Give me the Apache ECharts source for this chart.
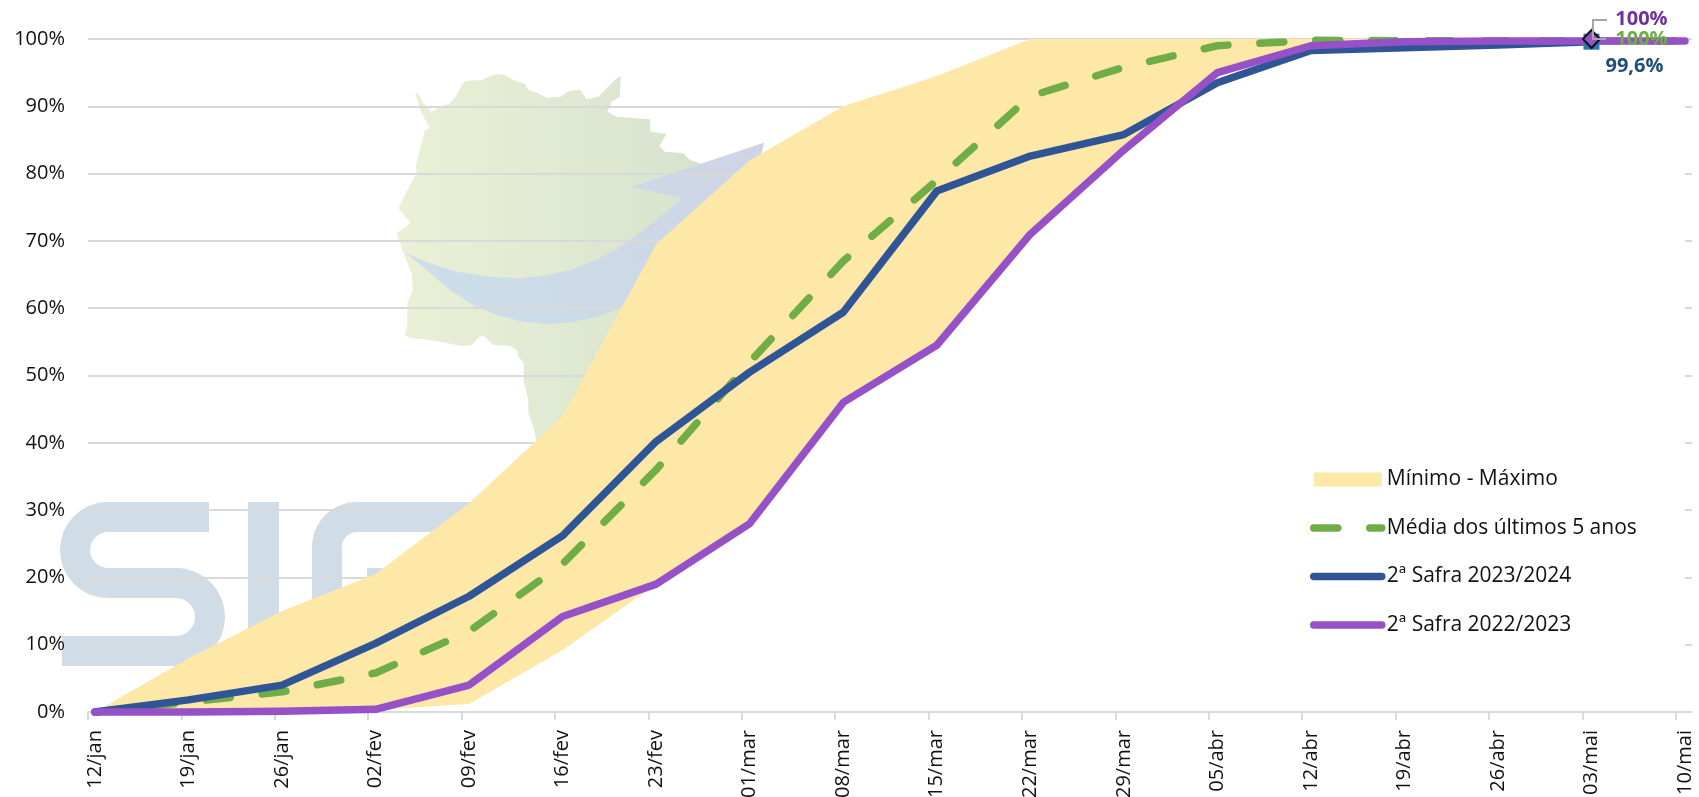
<!DOCTYPE html>
<html>
<head>
<meta charset="utf-8">
<style>html,body{margin:0;padding:0;background:#fff;overflow:hidden}#c{width:1699px;height:797px}</style>
<script src="https://cdn.jsdelivr.net/npm/echarts@6/dist/echarts.min.js"></script>
</head>
<body>
<div id="c"></div>
<script>
const categories = ['12/jan','19/jan','26/jan','02/fev','09/fev','16/fev','23/fev','01/mar','08/mar','15/mar','22/mar','29/mar','05/abr','12/abr','19/abr','26/abr','03/mai','10/mai'];
const maxima  = [0,8,15,20.5,31,44,69.5,82,90,94.5,100,100,100,100,100,100,100,100];
const minima  = [0,0,0,0.3,1.2,9.2,19,28,46,54.5,71,83.5,94.5,99,99.4,99.6,99.7,99.7];
const media   = [0,1.5,3,5.8,12,22,36,52,67,79,91.5,95.8,99,99.8,99.75,99.7,99.7,99.7];
const safra2324 = [0,1.8,4,10.2,17.2,26.2,40.2,50.5,59.4,77.4,82.6,85.8,93.5,98.3,98.7,99.1,99.6];
const safra2223 = [0,0,0.1,0.4,4,14.2,19,28,46,54.5,71,83.5,95,99,99.6,99.7,99.7,99.7];
const yTicks = {min:0,max:100,interval:10};
const tickIndexes = categories.map((_,i)=>i);
const band = maxima.map((v,i)=>+(v-minima[i]).toFixed(1));

const chart = echarts.init(document.getElementById('c'), null, {renderer:'canvas'});
const font = '"Open Sans", sans-serif';
const GREY = '#d9d9d9';
const GREEN='#70ad47', BLUE='#2f5597', PURPLE='#9650c8', YELLOW='#fee8a8';
const DASH=[24,32];

/* decorative watermark geometry */
const zx = p => p.map(([x,y])=>[390+x/3,60+y/3]);
const mapOutline = zx([[75,100],[85,100],[100,130],[125,155],[150,140],[180,130],[200,105],[220,68],[235,62],[275,60],[300,48],[325,42],[345,45],[370,60],[405,72],[415,90],[445,100],[470,113],[510,110],[540,92],[570,90],[590,118],[625,110],[650,85],[675,60],[692,47],[690,110],[665,125],[652,155],[680,170],[780,178],[782,215],[830,222],[808,258],[825,275],[880,280],[900,300],[930,310],[1000,400],[1000,800],[700,950],[520,1100],[440,1150],[430,1100],[415,1060],[415,1020],[400,960],[402,910],[385,890],[380,870],[360,858],[310,855],[285,830],[270,828],[245,855],[215,858],[150,845],[100,838],[60,835],[45,825],[52,790],[52,730],[68,690],[65,640],[45,590],[30,550],[20,520],[62,488],[25,445],[80,335],[78,315],[105,210],[120,205],[95,160]]);
const swoosh = zx([[45,578],[120,610],[200,635],[300,650],[380,655],[460,648],[540,630],[620,600],[700,555],[780,495],[878,415],[725,380],[1122,248],[1115,280],[1000,400],[850,600],[700,740],[620,770],[540,788],[470,792],[400,785],[320,765],[250,735],[180,690],[110,630]]);
function arc(cx,cy,r,a0,a1){const o=[];for(let i=0;i<=16;i++){const a=(a0+(a1-a0)*i/16)*Math.PI/180;o.push([cx+r*Math.cos(a),cy+r*Math.sin(a)]);}return o;}
const sPath = [[209,517],...arc(108,550,33,270,90),...arc(176,617,34,-90,90),[62,651]];
const gPath = [[520,517],...arc(357,547,30,270,180),[327,690]];
const LOGO = '#d0dce6';
const wm = (o)=>Object.assign({silent:true,z:-10},o);
const legendLine = (name,color,type)=>({name,itemStyle:{opacity:0},lineStyle:{color,width:7.5,type:type||'solid',cap:'round',opacity:1}});

chart.setOption({
  animation:false,
  backgroundColor:'#fff',
  grid:[
    {left:88,right:7,top:39,bottom:85,containLabel:false,outerBoundsMode:'none'},
    {left:95,right:14,top:39,bottom:85,containLabel:false,outerBoundsMode:'none'}
  ],
  xAxis:[
    {type:'value',gridIndex:0,min:0,max:17.173,interval:1,z:3,
     axisLine:{show:true,onZero:false,lineStyle:{color:GREY,width:2}},
     axisTick:{show:true,length:8,customValues:tickIndexes,lineStyle:{color:GREY,width:2}},
     axisLabel:{show:false},splitLine:{show:false}},
    {type:'category',gridIndex:1,data:categories,boundaryGap:false,
     axisLine:{show:false},axisTick:{show:false},splitLine:{show:false},
     axisLabel:{show:true,interval:0,rotate:90,margin:18,color:'#111',fontFamily:font,fontSize:20}}
  ],
  yAxis:[
    {type:'value',gridIndex:0,min:yTicks.min,max:yTicks.max,interval:yTicks.interval,
     axisLine:{show:false},axisTick:{show:false},
     axisLabel:{formatter:'{value}%',margin:23,color:'#111',fontFamily:font,fontSize:20},
     splitLine:{show:true,lineStyle:{color:GREY,width:2}}},
    {type:'value',gridIndex:1,min:yTicks.min,max:yTicks.max,interval:yTicks.interval,show:false,splitLine:{show:false}}
  ],
  legend:{
    orient:'vertical',left:1310,top:469,padding:0,itemWidth:68,itemHeight:14,itemGap:27.5,
    selectedMode:false,
    textStyle:{color:'#111',fontFamily:font,fontSize:21,lineHeight:14},
    data:[
      {name:'Mínimo - Máximo',icon:'rect',itemStyle:{color:YELLOW}},
      legendLine('Média dos últimos 5 anos',GREEN,DASH),
      legendLine('2ª Safra 2023/2024',BLUE),
      legendLine('2ª Safra 2022/2023',PURPLE)
    ]
  },
  graphic:{elements:[
    wm({type:'polygon',shape:{points:mapOutline},style:{fill:new echarts.graphic.LinearGradient(0,0,1,0,[{offset:0,color:'#ebf0d6'},{offset:1,color:'#d5e2cd'}])}}),
    wm({type:'polygon',z:-9,shape:{points:swoosh},style:{fill:new echarts.graphic.LinearGradient(0,1,1,0,[{offset:0,color:'#cbdfea'},{offset:1,color:'#ced4e5'}])}}),
    wm({type:'polyline',shape:{points:sPath},style:{stroke:LOGO,lineWidth:30,fill:null}}),
    wm({type:'rect',shape:{x:248,y:502,width:31,height:200},style:{fill:LOGO}}),
    wm({type:'polyline',shape:{points:gPath},style:{stroke:LOGO,lineWidth:30,fill:null}}),
    wm({type:'rect',shape:{x:367,y:568,width:150,height:30},style:{fill:LOGO}}),
    {type:'polyline',silent:true,z:100,shape:{points:[[1607,20],[1593,20],[1593,39],[1606,39]]},style:{stroke:'#a6a6a6',lineWidth:2,fill:null}}
  ]},
  series:[
    {name:'base',type:'line',xAxisIndex:1,yAxisIndex:1,stack:'faixa',data:minima,symbol:'none',z:2,
     lineStyle:{width:0},areaStyle:{color:'#fff',opacity:1},itemStyle:{color:'#fff'}},
    {name:'Mínimo - Máximo',type:'line',xAxisIndex:1,yAxisIndex:1,stack:'faixa',data:band,symbol:'none',z:2,
     lineStyle:{width:0},areaStyle:{color:YELLOW,opacity:1},itemStyle:{color:YELLOW}},
    {name:'Média dos últimos 5 anos',type:'line',xAxisIndex:1,yAxisIndex:1,data:media,symbol:'none',z:3,clip:false,
     lineStyle:{color:GREEN,width:7.5,type:DASH,cap:'round'},itemStyle:{color:GREEN},
     markPoint:{silent:true,z:20,symbol:'circle',symbolSize:1,itemStyle:{color:GREEN},
       data:[{coord:[categories[16],media[16]],
         label:{show:true,position:'inside',offset:[50,-2],formatter:'100%',color:GREEN,fontWeight:'bold',fontFamily:font,fontSize:20}}]}},
    {name:'2ª Safra 2023/2024',type:'line',xAxisIndex:1,yAxisIndex:1,data:safra2324,symbol:'none',z:4,clip:false,
     lineStyle:{color:BLUE,width:7.5,cap:'round',join:'round'},itemStyle:{color:BLUE},
     markPoint:{silent:true,z:10,symbol:'rect',symbolSize:16,itemStyle:{color:'#2e75b6'},
       data:[{coord:[categories[16],safra2324[16]],
         label:{show:true,position:'inside',offset:[43,25],formatter:'99,6%',color:'#1f4e79',fontWeight:'bold',fontFamily:font,fontSize:20}}]}},
    {name:'2ª Safra 2022/2023',type:'line',xAxisIndex:1,yAxisIndex:1,data:safra2223,symbol:'none',z:5,clip:false,
     lineStyle:{color:PURPLE,width:7.5,cap:'round',join:'round'},itemStyle:{color:PURPLE},
     markPoint:{silent:true,z:11,symbol:'diamond',symbolSize:[17,18],symbolOffset:[0,-2],
       itemStyle:{color:PURPLE,borderColor:'#111',borderWidth:2},
       data:[{coord:[categories[16],safra2223[16]],
         label:{show:true,position:'inside',offset:[50,-20],formatter:'100%',color:'#7030a0',fontWeight:'bold',fontFamily:font,fontSize:20}}]}}
  ]
});
</script>
</body>
</html>
